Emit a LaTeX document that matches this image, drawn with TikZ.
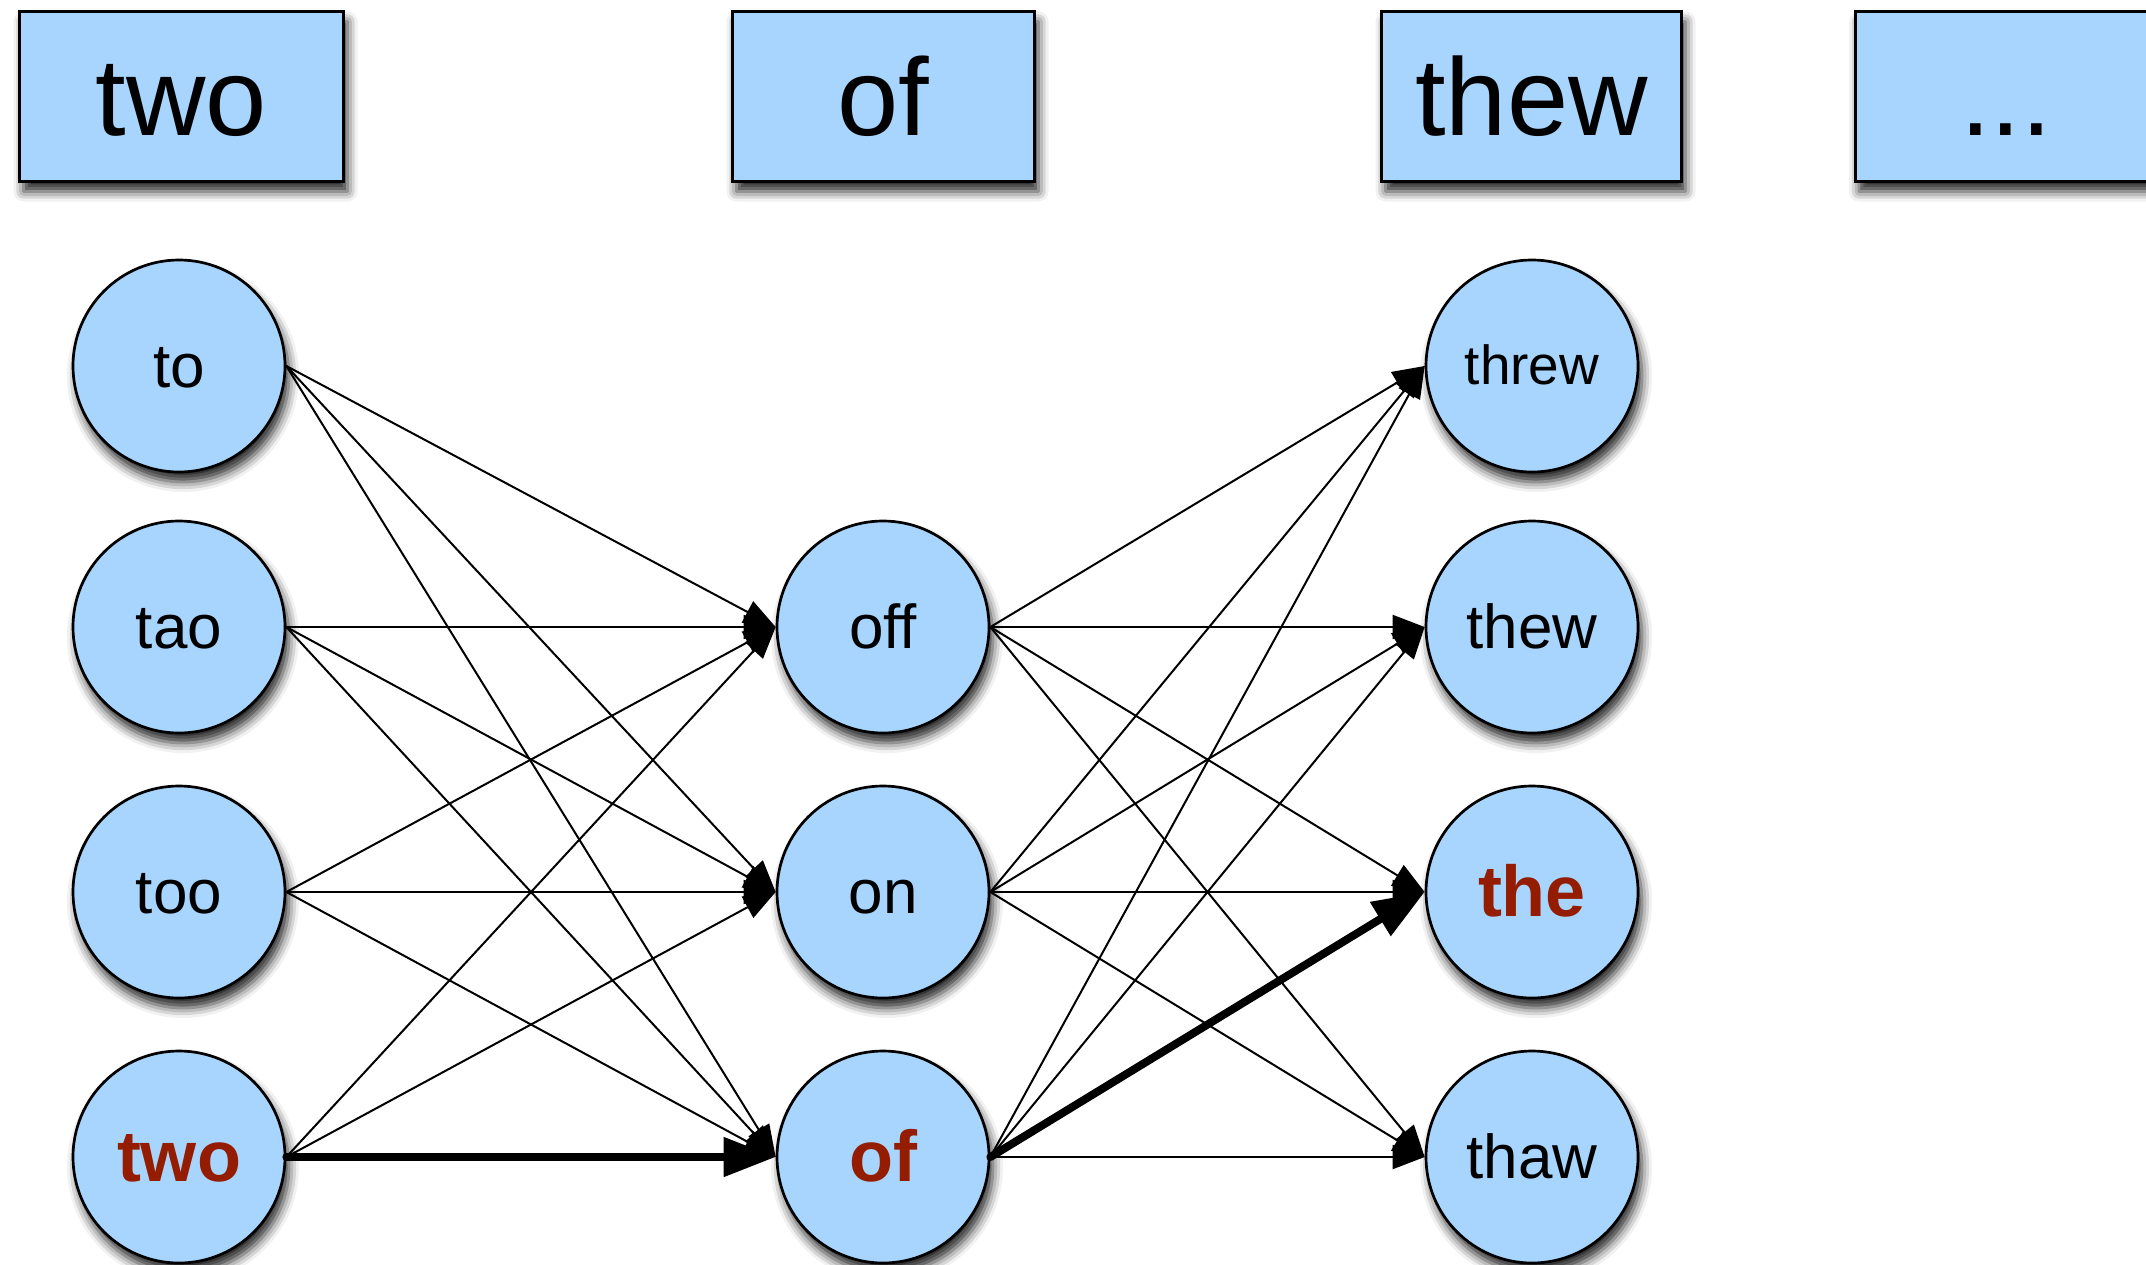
\documentclass[tikz,border=0pt]{standalone}
\usepackage{fontspec}
\setmainfont{Liberation Sans}
\usetikzlibrary{arrows.meta,shadows.blur}
\definecolor{nodeblue}{RGB}{168,213,253}
\definecolor{hired}{RGB}{148,28,0}
\begin{document}
\begin{tikzpicture}[x=1pt,y=-1pt,
  softshadow/.style={blur shadow={shadow xshift=4pt, shadow yshift=-10pt, shadow blur radius=10pt, shadow opacity=85}},
  wbox/.style={rectangle, draw=black, line width=3pt, fill=nodeblue, minimum height=170pt,
    inner sep=0pt, font=\fontsize{110}{120}\selectfont, text height=77pt, text depth=0pt, softshadow},
  cand/.style={circle, draw=black, line width=2.7pt, fill=nodeblue, minimum size=212pt,
    inner sep=0pt, font=\fontsize{62}{70}\selectfont, text height=42pt, text depth=0pt, softshadow},
  small/.style={font=\fontsize{55}{62}\selectfont, text height=37pt},
  best/.style={font=\fontsize{72}{80}\selectfont\bfseries, text=hired, text height=48pt},
  edge/.style={line width=2pt, line cap=round, -{Triangle[length=32pt,width=24pt]}},
  bestedge/.style={line width=8pt, line cap=round, -{Triangle[length=52pt,width=38pt]}}
]
\useasboundingbox (0,0) rectangle (2146,1264);
\clip (0,0) rectangle (2146,1264);

% top word boxes
\node[wbox, minimum width=324pt] (w1) at (181.5,96.5) {two};
\node[wbox, minimum width=302pt] (w2) at (883.5,96.5) {of};
\node[wbox, minimum width=300pt] (w3) at (1531.5,96.5) {thew};
\node[wbox, minimum width=302pt] (w4) at (2006,96.5) {...};

% column 1
\node[cand] (a1) at (179,366) {to};
\node[cand] (a2) at (179,627) {tao};
\node[cand] (a3) at (179,892) {too};
\node[cand, best] (a4) at (179,1157) {two};

% column 2
\node[cand] (b1) at (883,627) {off};
\node[cand] (b2) at (883,892) {on};
\node[cand, best] (b3) at (883,1157) {of};

% column 3
\node[cand, small] (c1) at (1532,366) {threw};
\node[cand] (c2) at (1532,627) {thew};
\node[cand, best] (c3) at (1532,892) {the};
\node[cand] (c4) at (1532,1157) {thaw};

% edges column 1 -> column 2
\foreach \s in {a1,a2,a3}
  \foreach \t in {b1,b2,b3}
    \draw[edge] (\s.east) -- (\t.west);
\draw[edge] (a4.east) -- (b1.west);
\draw[edge] (a4.east) -- (b2.west);

% edges column 2 -> column 3
\foreach \s in {b1,b2}
  \foreach \t in {c1,c2,c3,c4}
    \draw[edge] (\s.east) -- (\t.west);
\draw[edge] (b3.east) -- (c1.west);
\draw[edge] (b3.east) -- (c2.west);
\draw[edge] (b3.east) -- (c4.west);

% best path
\draw[bestedge] (a4.east) -- (b3.west);
\draw[bestedge] (b3.east) -- (c3.west);
\end{tikzpicture}
\end{document}
